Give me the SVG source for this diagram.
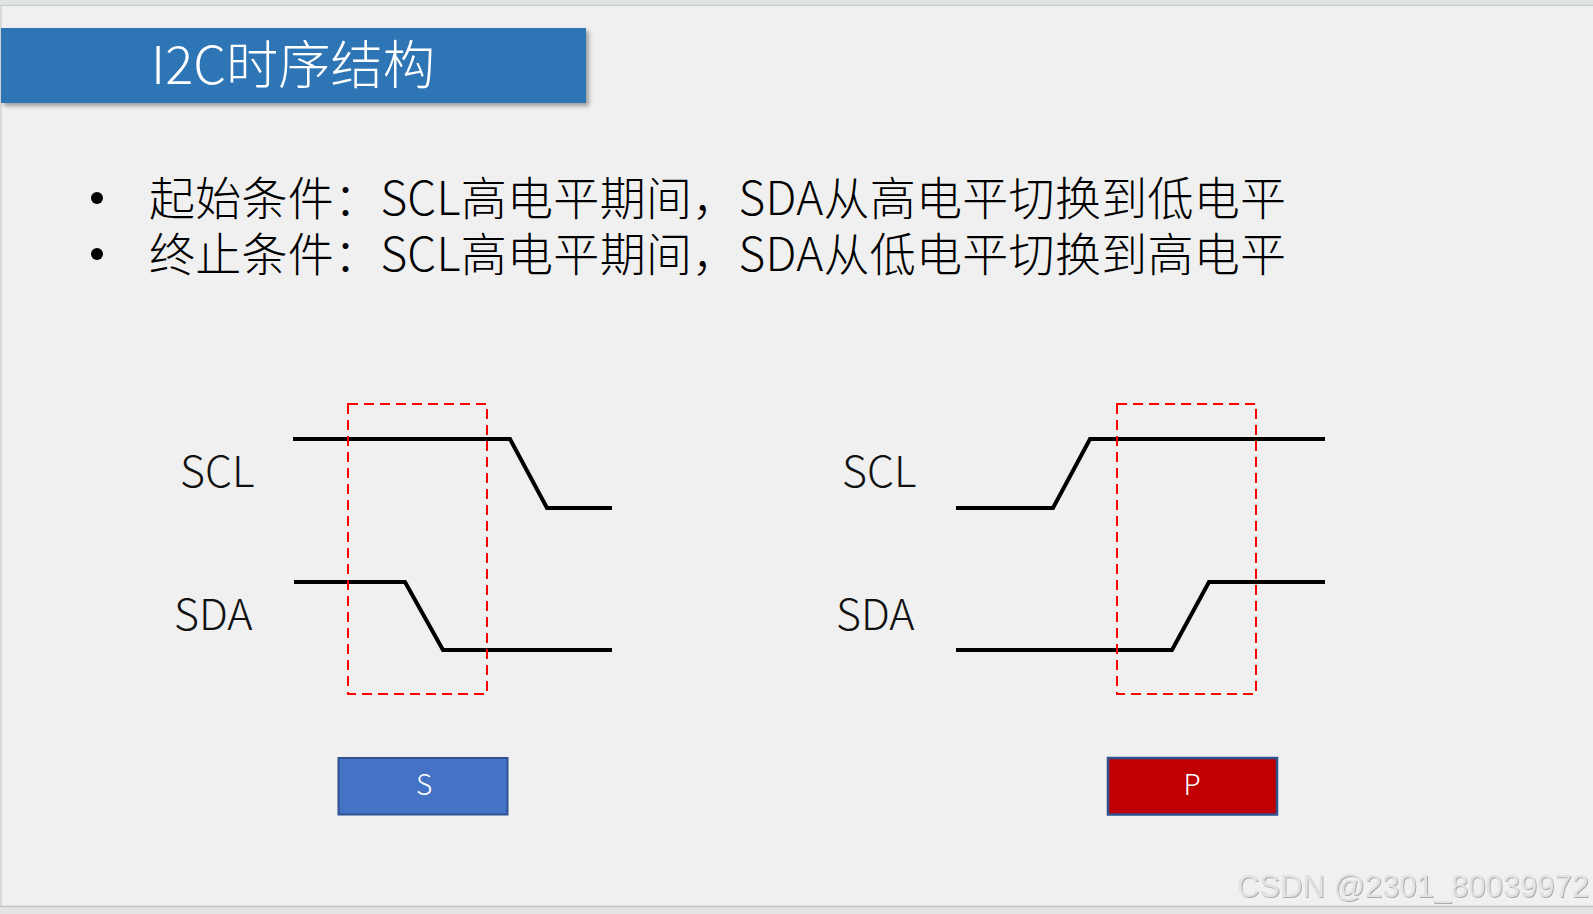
<svg xmlns="http://www.w3.org/2000/svg" width="1593" height="914" viewBox="0 0 1593 914">
  <style>
    .cjk { font-family: "Noto Sans CJK SC", "Noto Sans", sans-serif; font-weight: 300; }
    .sig { fill: none; stroke: #000000; stroke-width: 4; stroke-linejoin: miter; }
    .box { fill: none; stroke: #FF0000; stroke-width: 2; stroke-dasharray: 10 6; }
    .lbl { font-family: "Noto Sans CJK SC", "Noto Sans", sans-serif; font-weight: 300; font-size: 43px; fill: #111111; }
    .btntxt { font-family: "Noto Sans CJK SC", "Noto Sans", sans-serif; font-weight: 300; font-size: 28px; fill: #FFFFFF; text-anchor: middle; }
  </style>
  <defs>
    <filter id="shadow" x="-5%" y="-20%" width="110%" height="150%">
      <feDropShadow dx="3" dy="3" stdDeviation="2" flood-color="#000000" flood-opacity="0.35"/>
    </filter>
    <filter id="emboss" x="-5%" y="-20%" width="110%" height="150%">
      <feDropShadow dx="1" dy="1" stdDeviation="0.6" flood-color="#9A9A9A" flood-opacity="0.8"/>
    </filter>
  </defs>

  <!-- background -->
  <rect x="0" y="0" width="1593" height="914" fill="#E4E4E4"/>
  <rect x="0" y="0" width="1593" height="5" fill="#E0E3E3"/>
  <rect x="1" y="5" width="1592" height="901" fill="#F0F0F0"/>
  <line x1="0" y1="5.5" x2="1593" y2="5.5" stroke="#C8C8C8" stroke-width="1"/>
  <line x1="1" y1="5" x2="1" y2="906" stroke="#C8C8C8" stroke-width="1"/>
  <line x1="0" y1="906.5" x2="1593" y2="906.5" stroke="#C4C4C4" stroke-width="1.5"/>

  <!-- title -->
  <g id="title">
    <rect x="1" y="28" width="585" height="75" fill="#2E75B6" filter="url(#shadow)"/>
    <text x="151" y="84" class="cjk" font-size="52" fill="#FFFFFF" textLength="284" lengthAdjust="spacingAndGlyphs">I2C时序结构</text>
  </g>

  <!-- bullets -->
  <g id="bullets">
    <circle cx="97" cy="198" r="6" fill="#000000"/>
    <text x="149" y="215" class="cjk" font-size="46" fill="#000000" textLength="1137" lengthAdjust="spacing">起始条件：SCL高电平期间，SDA从高电平切换到低电平</text>
    <circle cx="97" cy="254" r="6" fill="#000000"/>
    <text x="149" y="271" class="cjk" font-size="46" fill="#000000" textLength="1137" lengthAdjust="spacing">终止条件：SCL高电平期间，SDA从低电平切换到高电平</text>
  </g>

  <!-- start condition -->
  <g id="start-diagram">
    <text x="180" y="487" class="lbl">SCL</text>
    <text x="174" y="630" class="lbl">SDA</text>
    <polyline class="sig" points="293,439 510,439 547,508 612,508"/>
    <polyline class="sig" points="294,582 405,582 443,650 612,650"/>
    <rect class="box" x="348" y="404" width="139" height="290"/>
  </g>

  <!-- stop condition -->
  <g id="stop-diagram">
    <text x="842" y="487" class="lbl">SCL</text>
    <text x="836" y="630" class="lbl">SDA</text>
    <polyline class="sig" points="956,508 1053,508 1090,439 1325,439"/>
    <polyline class="sig" points="956,650 1172,650 1209,582 1325,582"/>
    <rect class="box" x="1117" y="404" width="139" height="290"/>
  </g>

  <!-- S button -->
  <g id="btn-s">
    <rect x="338.5" y="758" width="169" height="56.5" fill="#4472C4" stroke="#2F528F" stroke-width="2"/>
    <text x="424" y="795" class="btntxt">S</text>
  </g>

  <!-- P button -->
  <g id="btn-p">
    <rect x="1108" y="758" width="169" height="56.5" fill="#C00000" stroke="#2F528F" stroke-width="2.5"/>
    <text x="1192" y="795" class="btntxt">P</text>
  </g>

  <!-- watermark -->
  <text x="1589" y="897" font-family="Liberation Sans, Arial, sans-serif" font-size="31" fill="#E2E2E2" text-anchor="end" filter="url(#emboss)">CSDN @2301_80039972</text>
</svg>
